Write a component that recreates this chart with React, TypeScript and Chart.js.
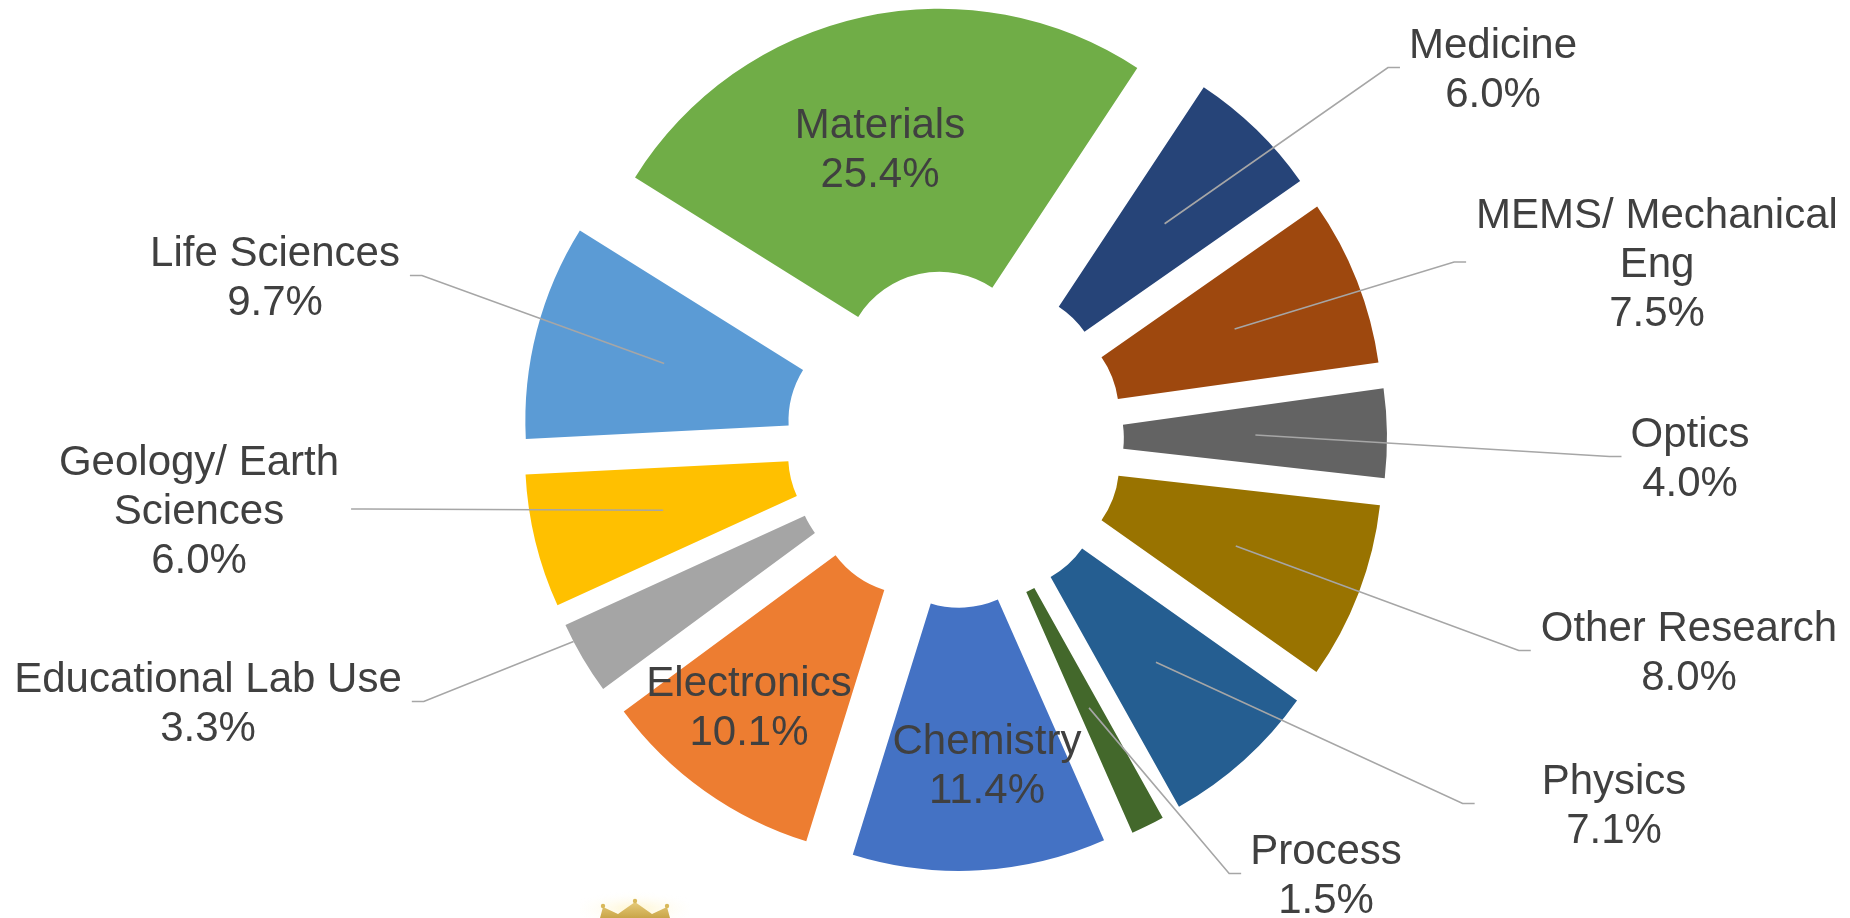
import React, { useEffect, useRef } from 'react';
import { Chart, ArcElement, registerables } from 'chart.js';

Chart.register(...registerables);

// ---------- data ----------
const categories = [
  'Chemistry',
  'Electronics',
  'Educational Lab Use',
  'Geology/ Earth Sciences',
  'Life Sciences',
  'Materials',
  'Medicine',
  'MEMS/ Mechanical Eng',
  'Optics',
  'Other Research',
  'Physics',
  'Process',
];
const labelLines = [
  ['Chemistry'],
  ['Electronics'],
  ['Educational Lab Use'],
  ['Geology/ Earth', 'Sciences'],
  ['Life Sciences'],
  ['Materials'],
  ['Medicine'],
  ['MEMS/ Mechanical', 'Eng'],
  ['Optics'],
  ['Other Research'],
  ['Physics'],
  ['Process'],
];
const shares = [11.4, 10.1, 3.3, 6.0, 9.7, 25.4, 6.0, 7.5, 4.0, 8.0, 7.1, 1.5];
const colors = [
  '#4472C4', '#ED7D31', '#A5A5A5', '#FFC000', '#5B9BD5', '#70AD47',
  '#264478', '#9E480E', '#636363', '#997300', '#255E91', '#43682B',
];

// ---------- layout / style ----------
const EXPLODE = 73;
const ROTATION = 156.2;
const FONT_SIZE = 42;
const LINE_H = 49;
const CAP_H = 30;
const STUB = 12;
// label block placement relative to the doughnut centre (x centre, first baseline)
const LABEL_LAYOUT = [
  { dx: 32, dy: 315, inside: true },
  { dx: -206, dy: 257, inside: true },
  { dx: -747, dy: 253, gap: 10, fromOuter: true, angleShift: 3 },
  { dx: -756, dy: 36, gap: 12 },
  { dx: -680, dy: -173, gap: 10 },
  { dx: -75, dy: -301, inside: true },
  { dx: 538, dy: -381, gap: 9 },
  { dx: 702, dy: -211, gap: 10 },
  { dx: 735, dy: 8, gap: 9 },
  { dx: 734, dy: 202, gap: 10 },
  { dx: 659, dy: 355, gap: 67 },
  { dx: 371, dy: 425, gap: 9 },
];

// exploded slices: translate each arc outward along its mid-angle
const baseArcDraw = (ArcElement.prototype as any).__baseDraw || ArcElement.prototype.draw;
(ArcElement.prototype as any).__baseDraw = baseArcDraw;
(ArcElement.prototype as any).draw = function (ctx: CanvasRenderingContext2D) {
  const mid = (this.startAngle + this.endAngle) / 2;
  ctx.save();
  ctx.translate(Math.cos(mid) * EXPLODE, Math.sin(mid) * EXPLODE);
  baseArcDraw.call(this, ctx);
  ctx.restore();
};

const labelPlugin = {
  id: 'sliceLabels',
  afterDatasetsDraw(chart: any) {
    const ctx: CanvasRenderingContext2D = chart.ctx;
    const meta = chart.getDatasetMeta(0);
    ctx.save();
    ctx.font = `${FONT_SIZE}px "Liberation Sans", Arial, sans-serif`;
    meta.data.forEach((arc: any, i: number) => {
      const { x, y, startAngle, endAngle, innerRadius, outerRadius } = arc.getProps(
        ['x', 'y', 'startAngle', 'endAngle', 'innerRadius', 'outerRadius'],
        true
      );
      const mid = (startAngle + endAngle) / 2;
      const ox = x + Math.cos(mid) * EXPLODE;
      const oy = y + Math.sin(mid) * EXPLODE;
      const lay: any = LABEL_LAYOUT[i];
      const lines = [...labelLines[i], shares[i].toFixed(1) + '%'];
      const tx = x + lay.dx;
      const base0 = y + lay.dy;
      const lastBase = base0 + (lines.length - 1) * LINE_H;
      const midY = (base0 - CAP_H + lastBase) / 2;
      const maxW = Math.max(...lines.map((l) => ctx.measureText(l).width));
      if (!lay.inside) {
        const rr = lay.fromOuter ? outerRadius : (innerRadius + outerRadius) / 2;
        const a = mid + ((lay.angleShift || 0) * Math.PI) / 180;
        const sx = ox + Math.cos(a) * rr;
        const sy = oy + Math.sin(a) * rr;
        const leftSide = tx > sx;
        const ex = leftSide ? tx - maxW / 2 - lay.gap : tx + maxW / 2 + lay.gap;
        const kx = leftSide ? ex - STUB : ex + STUB;
        ctx.beginPath();
        ctx.moveTo(sx, sy);
        ctx.lineTo(kx, midY);
        ctx.lineTo(ex, midY);
        ctx.strokeStyle = '#A6A6A6';
        ctx.lineWidth = 1.6;
        ctx.stroke();
      }
      ctx.fillStyle = '#404040';
      ctx.textAlign = 'center';
      ctx.textBaseline = 'alphabetic';
      lines.forEach((l, k) => ctx.fillText(l, tx, base0 + k * LINE_H));
    });
    ctx.restore();
  },
};

export default function App() {
  const ref = useRef<HTMLCanvasElement | null>(null);
  useEffect(() => {
    if (!ref.current) return;
    const chart = new Chart(ref.current, {
      type: 'doughnut',
      data: {
        labels: categories,
        datasets: [
          {
            data: shares,
            backgroundColor: colors,
            borderWidth: 0,
            clip: false as any,
          },
        ],
      },
      options: {
        responsive: false,
        animation: false,
        rotation: ROTATION,
        cutout: '26.7%',
        radius: 359,
        layout: { padding: { left: 60, right: 0, top: 0, bottom: 40 } },
        events: [],
        plugins: { legend: { display: false }, tooltip: { enabled: false } },
      } as any,
      plugins: [labelPlugin],
    });
    return () => chart.destroy();
  }, []);

  return (
    <div style={{ position: 'absolute', left: 0, top: 0, width: 1850, height: 918, background: '#fff', overflow: 'hidden' }}>
      <canvas ref={ref} width={1850} height={918} style={{ display: 'block', width: 1850, height: 918 }} />
      <svg
        style={{ position: 'absolute', left: 580, top: 888, width: 110, height: 30 }}
        viewBox="0 0 110 30"
      >
        <defs>
          <radialGradient id="haze" cx="50%" cy="70%" r="60%">
            <stop offset="0%" stopColor="#FFF4C8" stopOpacity="0.9" />
            <stop offset="100%" stopColor="#FFFFFF" stopOpacity="0" />
          </radialGradient>
          <linearGradient id="gold" x1="0" y1="0" x2="0" y2="1">
            <stop offset="0%" stopColor="#E6CB7A" />
            <stop offset="100%" stopColor="#C9A548" />
          </linearGradient>
        </defs>
        <rect x="0" y="0" width="110" height="30" fill="url(#haze)" />
        <path d="M20 30 L23 19 L38 26 L55 14 L72 26 L87 19 L90 30 Z" fill="url(#gold)" />
        <circle cx="23" cy="18" r="2.2" fill="#D9B95B" />
        <circle cx="55" cy="13" r="2.2" fill="#D9B95B" />
        <circle cx="87" cy="18" r="2.2" fill="#D9B95B" />
      </svg>
    </div>
  );
}
